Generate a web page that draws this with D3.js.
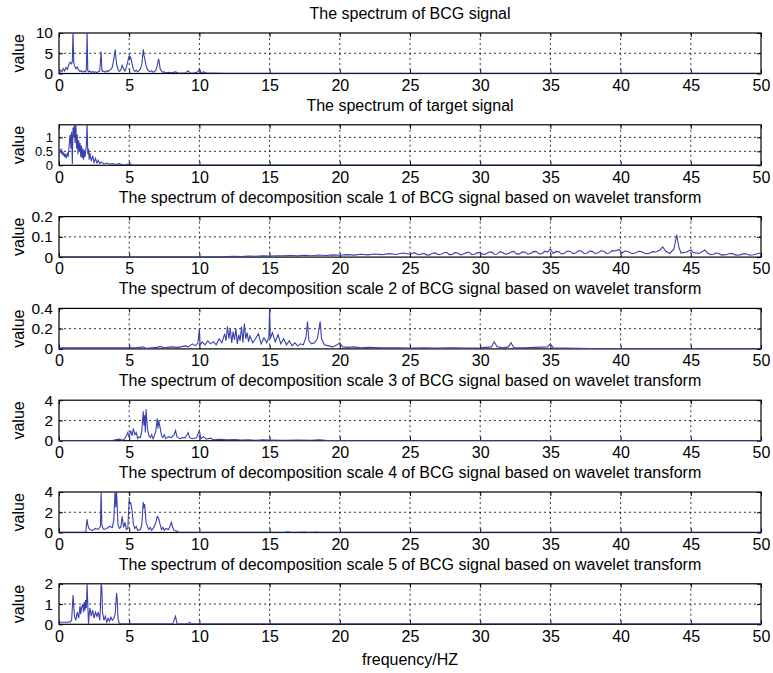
<!DOCTYPE html>
<html>
<head>
<meta charset="utf-8">
<script src="https://cdn.jsdelivr.net/npm/d3@7"></script>
<style>
  body { margin: 0; background: #fff; }
  text { font-family: "Liberation Sans", Arial, sans-serif; }
</style>
</head>
<body>
<div id="wrapper"></div>
<script>
// panel titles, y ranges, y ticks
const titles = [
  "The spectrum of BCG signal",
  "The spectrum of target signal",
  "The spectrum of decomposition scale 1 of BCG signal based on wavelet transform",
  "The spectrum of decomposition scale 2 of BCG signal based on wavelet transform",
  "The spectrum of decomposition scale 3 of BCG signal based on wavelet transform",
  "The spectrum of decomposition scale 4 of BCG signal based on wavelet transform",
  "The spectrum of decomposition scale 5 of BCG signal based on wavelet transform"
]
const yMaxes = [10, 1.45, 0.2, 0.4, 4, 4, 2]
const yTicks = [[0, 5, 10], [0, 0.5, 1], [0, 0.1, 0.2], [0, 0.2, 0.4], [0, 2, 4], [0, 2, 4], [0, 1, 2]]
const xTicks = [0, 5, 10, 15, 20, 25, 30, 35, 40, 45, 50]

// spectra: [frequency, value]
const bcg = [[0,0.3],[0.1,0.8],[0.2,0.4],[0.3,1.2],[0.4,0.6],[0.5,1.5],[0.6,1.0],[0.7,2.2],[0.8,2.8],[0.9,2.4],[0.95,3.0],[1.0,10.5],[1.05,2.8],[1.1,2.0],[1.2,1.2],[1.3,1.6],[1.4,0.8],[1.5,0.5],[1.6,0.7],[1.7,0.3],[1.8,0.6],[1.9,0.4],[1.95,1.0],[2.0,10.5],[2.05,0.8],[2.1,0.4],[2.2,0.6],[2.3,0.2],[2.4,0.5],[2.5,0.3],[2.6,0.4],[2.7,0.2],[2.8,0.5],[2.9,0.6],[3.0,5.4],[3.05,1.0],[3.1,0.5],[3.2,0.6],[3.3,0.3],[3.4,0.7],[3.5,0.5],[3.6,0.8],[3.7,1.0],[3.8,1.6],[3.9,3.5],[4.0,5.9],[4.05,4.0],[4.1,2.4],[4.2,1.0],[4.3,0.5],[4.4,0.8],[4.5,2.0],[4.6,1.2],[4.7,0.6],[4.8,1.5],[4.9,3.0],[5.0,4.5],[5.05,3.6],[5.1,4.0],[5.2,2.5],[5.3,1.0],[5.4,0.5],[5.5,0.8],[5.6,0.4],[5.7,0.7],[5.8,1.2],[5.9,2.2],[6.0,6.0],[6.05,4.5],[6.1,3.8],[6.2,2.0],[6.3,1.0],[6.4,0.6],[6.5,0.4],[6.6,0.7],[6.7,0.3],[6.8,0.5],[6.9,0.8],[7.0,2.0],[7.1,3.6],[7.15,2.5],[7.2,1.2],[7.3,0.6],[7.4,0.3],[7.5,0.4],[7.6,0.2],[7.8,0.3],[8.0,0.15],[8.3,0.4],[8.5,0.1],[9.0,0.2],[9.2,0.6],[9.3,0.2],[9.6,0.1],[9.9,0.4],[10.0,1.2],[10.1,0.2],[10.3,0.4],[10.5,0.1],[11,0.1],[12,0.05],[20,0.05],[35,0.05],[50,0.05]]

const target = [[0,0.3],[0.05,0.55],[0.1,0.45],[0.15,0.6],[0.2,0.4],[0.25,0.5],[0.3,0.35],[0.35,0.45],[0.4,0.3],[0.45,0.4],[0.5,0.25],[0.55,0.35],[0.6,0.45],[0.65,0.3],[0.7,0.55],[0.75,0.9],[0.8,1.1],[0.85,0.6],[0.9,1.2],[0.95,0.05],[1.0,1.35],[1.05,1.0],[1.1,1.5],[1.15,0.8],[1.2,1.5],[1.25,0.6],[1.3,1.1],[1.35,0.4],[1.4,0.9],[1.45,0.5],[1.5,0.8],[1.55,0.3],[1.6,0.7],[1.65,0.25],[1.7,0.6],[1.75,0.2],[1.8,0.55],[1.85,0.3],[1.9,0.5],[1.95,0.7],[2.0,1.5],[2.05,0.4],[2.1,0.6],[2.15,0.2],[2.2,0.45],[2.3,0.15],[2.4,0.35],[2.5,0.1],[2.6,0.25],[2.7,0.08],[2.8,0.18],[2.9,0.06],[3.0,0.12],[3.2,0.05],[3.4,0.08],[3.6,0.04],[3.8,0.06],[4.0,0.03],[4.3,0.06],[4.5,0.02],[4.8,0.03],[5.0,0.05],[5.2,0.01],[6,0.01],[50,0.01]]

const scale1 = [[0,0.001],[11.5,0.001],[12,0.003],[12.5,0.004],[13,0.003],[13.5,0.005],[14,0.004],[14.5,0.006],[15,0.005],[15.5,0.007],[16,0.006],[16.5,0.008],[17,0.006],[17.5,0.009],[18,0.007],[18.5,0.01],[19,0.008],[19.5,0.011],[20,0.009],[20.5,0.012],[21,0.01],[21.5,0.014],[22,0.011],[22.5,0.015],[23,0.012],[23.5,0.017],[24,0.013],[24.5,0.02],[25,0.014],[25.3,0.022],[25.6,0.012],[26,0.018],[26.2,0.01],[26.4,0.011],[26.6,0.019],[26.8,0.021],[27,0.012],[27.2,0.014],[27.4,0.02],[27.6,0.024],[27.8,0.012],[28,0.013],[28.2,0.022],[28.4,0.02],[28.6,0.011],[28.8,0.015],[29,0.021],[29.2,0.025],[29.4,0.012],[29.6,0.014],[29.8,0.023],[30,0.022],[30.2,0.013],[30.4,0.016],[30.6,0.024],[30.8,0.026],[31,0.014],[31.2,0.015],[31.4,0.027],[31.6,0.023],[31.8,0.014],[32,0.017],[32.2,0.025],[32.4,0.028],[32.6,0.015],[32.8,0.016],[33,0.026],[33.2,0.024],[33.4,0.014],[33.6,0.018],[33.8,0.028],[34,0.027],[34.2,0.016],[34.4,0.017],[34.6,0.029],[34.8,0.025],[35,0.04],[35.2,0.018],[35.4,0.028],[35.6,0.026],[35.8,0.016],[36,0.019],[36.2,0.03],[36.4,0.028],[36.6,0.017],[36.8,0.02],[37,0.031],[37.2,0.03],[37.4,0.018],[37.6,0.019],[37.8,0.03],[38,0.027],[38.2,0.017],[38.4,0.021],[38.6,0.031],[38.8,0.029],[39,0.018],[39.2,0.02],[39.4,0.032],[39.6,0.03],[39.9,0.038],[40.1,0.02],[40.3,0.03],[40.5,0.028],[40.8,0.018],[41,0.019],[41.3,0.029],[41.5,0.026],[41.8,0.017],[42,0.018],[42.3,0.027],[42.5,0.025],[42.8,0.035],[43,0.05],[43.2,0.03],[43.5,0.018],[43.8,0.04],[44,0.11],[44.15,0.05],[44.3,0.02],[44.7,0.025],[45,0.035],[45.2,0.022],[45.6,0.018],[46,0.035],[46.2,0.02],[46.4,0.012],[46.6,0.014],[46.8,0.02],[47,0.018],[47.2,0.01],[47.5,0.012],[47.8,0.018],[48,0.016],[48.2,0.01],[48.5,0.011],[48.8,0.017],[49,0.015],[49.2,0.009],[49.5,0.012],[49.8,0.018],[50,0.02]]

const scale2 = [[0,0.01],[5.5,0.01],[6,0.02],[6.2,0.005],[7,0.015],[7.2,0.025],[7.5,0.01],[8,0.02],[8.5,0.015],[9,0.03],[9.2,0.02],[9.5,0.05],[9.7,0.03],[9.9,0.06],[10,0.2],[10.05,0.04],[10.2,0.07],[10.4,0.04],[10.6,0.08],[10.8,0.05],[11,0.07],[11.2,0.04],[11.4,0.1],[11.6,0.06],[11.8,0.15],[11.9,0.08],[12,0.22],[12.1,0.1],[12.2,0.2],[12.3,0.06],[12.4,0.17],[12.5,0.09],[12.6,0.2],[12.7,0.05],[12.8,0.14],[12.9,0.08],[13,0.22],[13.1,0.06],[13.2,0.25],[13.3,0.1],[13.4,0.16],[13.5,0.07],[13.6,0.13],[13.8,0.06],[14,0.1],[14.2,0.15],[14.4,0.05],[14.6,0.11],[14.8,0.06],[14.95,0.12],[15,0.4],[15.05,0.1],[15.2,0.16],[15.4,0.07],[15.6,0.14],[15.8,0.05],[16,0.1],[16.2,0.04],[16.4,0.08],[16.6,0.03],[16.8,0.06],[17,0.03],[17.2,0.05],[17.4,0.04],[17.6,0.12],[17.7,0.27],[17.8,0.08],[18,0.05],[18.2,0.06],[18.4,0.1],[18.6,0.27],[18.7,0.1],[18.9,0.04],[19.2,0.03],[19.5,0.02],[19.8,0.04],[20,0.06],[20.2,0.02],[20.6,0.015],[21,0.02],[21.5,0.01],[22,0.015],[23,0.01],[24,0.012],[25,0.008],[26,0.01],[27,0.008],[28,0.012],[29,0.008],[30,0.01],[30.8,0.02],[31,0.07],[31.2,0.02],[31.6,0.01],[32,0.02],[32.2,0.06],[32.4,0.01],[33,0.01],[34,0.015],[34.8,0.02],[35,0.05],[35.2,0.01],[36,0.008],[37,0.005],[38,0.004],[39,0.003],[39.1,0],[50,0]]

const scale3 = [[0,0.02],[3.8,0.02],[4,0.1],[4.3,0.15],[4.5,0.05],[4.7,0.2],[4.9,0.8],[5.0,0.3],[5.1,1.0],[5.2,0.5],[5.3,1.2],[5.4,0.6],[5.5,0.8],[5.6,0.2],[5.7,0.4],[5.8,0.3],[5.9,1.0],[6.0,2.9],[6.05,1.5],[6.1,2.5],[6.15,0.8],[6.2,3.1],[6.3,1.2],[6.4,0.5],[6.5,0.3],[6.6,0.6],[6.7,0.2],[6.8,0.5],[6.9,1.0],[7.0,2.2],[7.05,1.2],[7.1,2.0],[7.2,1.3],[7.3,0.5],[7.4,0.3],[7.5,0.6],[7.6,0.2],[7.8,0.4],[8.0,0.3],[8.2,0.6],[8.3,1.0],[8.4,0.4],[8.6,0.2],[8.8,0.3],[9.0,0.3],[9.2,0.8],[9.3,0.3],[9.5,0.2],[9.8,0.3],[10.0,1.0],[10.1,0.2],[10.3,0.4],[10.5,0.15],[10.8,0.25],[11,0.1],[11.5,0.15],[12,0.08],[12.5,0.12],[13,0.06],[13.5,0.1],[14,0.05],[14.5,0.08],[15,0.06],[16,0.05],[17,0.06],[18,0.04],[18.5,0.1],[19,0.03],[20,0.02],[50,0.02]]

const scale4 = [[0,0.02],[1.9,0.02],[2.0,1.3],[2.05,0.8],[2.1,0.5],[2.2,0.3],[2.4,0.2],[2.6,0.4],[2.8,0.3],[2.95,0.6],[3.0,4.2],[3.05,0.8],[3.1,0.5],[3.2,0.3],[3.4,0.4],[3.6,0.6],[3.8,0.5],[3.9,1.2],[4.0,4.2],[4.05,2.5],[4.1,4.0],[4.2,0.8],[4.3,0.4],[4.4,0.5],[4.5,1.6],[4.6,0.5],[4.7,1.0],[4.8,0.3],[4.9,0.4],[5.0,3.3],[5.05,2.8],[5.1,3.0],[5.2,2.2],[5.3,0.8],[5.4,0.4],[5.5,0.6],[5.6,0.2],[5.8,0.3],[5.9,0.8],[6.0,3.0],[6.05,2.4],[6.1,2.8],[6.2,1.0],[6.3,0.6],[6.4,0.3],[6.5,0.5],[6.6,0.2],[6.8,0.6],[6.9,1.0],[7.0,1.6],[7.1,1.4],[7.2,0.8],[7.3,0.3],[7.4,0.5],[7.5,0.2],[7.6,0.4],[7.8,0.3],[7.9,0.6],[8.0,1.0],[8.1,0.5],[8.2,0.2],[8.4,0.15],[8.5,0.05],[8.7,0.02],[16,0.02],[16.3,0.06],[16.6,0.02],[17.5,0.05],[17.8,0.02],[18.3,0.04],[18.6,0.02],[50,0.02]]

const scale5 = [[0,0.1],[0.5,0.1],[0.8,0.12],[0.9,0.2],[1.0,1.45],[1.05,0.9],[1.1,0.4],[1.2,0.2],[1.3,0.6],[1.4,0.3],[1.5,0.9],[1.55,0.5],[1.6,0.8],[1.7,1.0],[1.75,0.6],[1.8,1.1],[1.85,0.7],[1.9,1.2],[1.95,0.8],[2.0,2.0],[2.05,1.0],[2.1,0.0],[2.15,0.5],[2.2,0.8],[2.3,0.4],[2.4,0.7],[2.5,0.3],[2.6,0.6],[2.7,0.4],[2.8,0.6],[2.9,0.2],[2.95,0.8],[3.0,2.0],[3.05,1.8],[3.1,0.6],[3.2,0.2],[3.3,0.4],[3.4,0.1],[3.5,0.3],[3.6,0.15],[3.7,0.35],[3.8,0.2],[3.9,0.3],[4.0,0.5],[4.1,1.55],[4.15,1.2],[4.2,0.3],[4.3,0.02],[8.1,0.02],[8.3,0.4],[8.4,0.05],[8.5,0.02],[9.2,0.03],[9.3,0.1],[9.4,0.02],[50,0.02]]

const series = [bcg, target, scale1, scale2, scale3, scale4, scale5]

const width = 773
const height = 673
const margin = {left: 59, right: 12}
const panelTop = 33
const panelStep = 91.8
const panelHeight = 40.5
const lineColor = "#3a41ad"

const svg = d3.select("#wrapper")
  .append("svg")
    .attr("width", width)
    .attr("height", height)

const xScaler = d3.scaleLinear()
  .domain([0, 50])
  .range([margin.left, width - margin.right])

series.forEach((data, i) => {
  const top = panelTop + i * panelStep
  const bottom = top + panelHeight

  const yScaler = d3.scaleLinear()
    .domain([0, yMaxes[i]])
    .range([bottom, top])

  const g = svg.append("g")

  // box
  g.append("rect")
    .attr("x", xScaler(0))
    .attr("y", top)
    .attr("width", xScaler(50) - xScaler(0))
    .attr("height", panelHeight)
    .attr("fill", "none")
    .attr("stroke", "#000")
    .attr("stroke-width", 1.2)

  // dotted grid
  g.selectAll(".vgrid")
    .data(xTicks.slice(1, -1))
    .join("line")
      .attr("x1", d => xScaler(d))
      .attr("x2", d => xScaler(d))
      .attr("y1", top)
      .attr("y2", bottom)
      .attr("stroke", "#000")
      .attr("stroke-width", 0.8)
      .attr("stroke-dasharray", "2,3")
  g.selectAll(".hgrid")
    .data(yTicks[i].filter(t => t > 0 && t < yMaxes[i]))
    .join("line")
      .attr("x1", xScaler(0))
      .attr("x2", xScaler(50))
      .attr("y1", d => yScaler(d))
      .attr("y2", d => yScaler(d))
      .attr("stroke", "#000")
      .attr("stroke-width", 0.8)
      .attr("stroke-dasharray", "2,3")

  // axes (ticks point inward)
  const fmt = d => String(d)
  g.append("g")
    .attr("transform", `translate(0,${bottom})`)
    .call(d3.axisBottom(xScaler).tickValues(xTicks).tickFormat(fmt)
      .tickSizeInner(-4).tickSizeOuter(0).tickPadding(6))
  g.append("g")
    .attr("transform", `translate(0,${top})`)
    .call(d3.axisTop(xScaler).tickValues(xTicks).tickFormat("")
      .tickSizeInner(-4).tickSizeOuter(0))
  g.append("g")
    .attr("class", "yax")
    .attr("transform", `translate(${xScaler(0)},0)`)
    .call(d3.axisLeft(yScaler).tickValues(yTicks[i]).tickFormat(fmt)
      .tickSizeInner(-4).tickSizeOuter(0).tickPadding(6))
  g.append("g")
    .attr("transform", `translate(${xScaler(50)},0)`)
    .call(d3.axisRight(yScaler).tickValues(yTicks[i]).tickFormat("")
      .tickSizeInner(-4).tickSizeOuter(0))

  g.selectAll(".domain").remove()
  g.selectAll(".tick text")
    .attr("font-size", "16px")
    .attr("fill", "#000")
    .style("font-family", "'Liberation Sans', Arial, sans-serif")
  // the target panel's y ticks sit close together
  g.selectAll(".yax .tick text")
    .attr("font-size", i === 1 ? "13px" : "15.5px")

  // spectrum line, clipped to the panel, drawn over the box
  const clipId = "clip" + i
  g.append("clipPath").attr("id", clipId)
    .append("rect")
      .attr("x", xScaler(0))
      .attr("y", top)
      .attr("width", xScaler(50) - xScaler(0))
      .attr("height", panelHeight)

  const lineGen = d3.line()
    .x(d => xScaler(d[0]))
    .y(d => yScaler(d[1]))

  g.append("path")
    .datum(data)
    .attr("clip-path", `url(#${clipId})`)
    .attr("d", lineGen)
    .attr("fill", "none")
    .attr("stroke", lineColor)
    .attr("stroke-width", 1.1)

  g.append("text")
    .attr("x", (xScaler(0) + xScaler(50)) / 2)
    .attr("y", top - 14)
    .attr("text-anchor", "middle")
    .attr("font-size", "16px")
    .text(titles[i])

  g.append("text")
    .attr("transform", `translate(24,${(top + bottom) / 2}) rotate(-90)`)
    .attr("text-anchor", "middle")
    .attr("font-size", "16px")
    .text("value")
})

svg.append("text")
  .attr("x", (xScaler(0) + xScaler(50)) / 2)
  .attr("y", 665)
  .attr("text-anchor", "middle")
  .attr("font-size", "16px")
  .text("frequency/HZ")
</script>
</body>
</html>
